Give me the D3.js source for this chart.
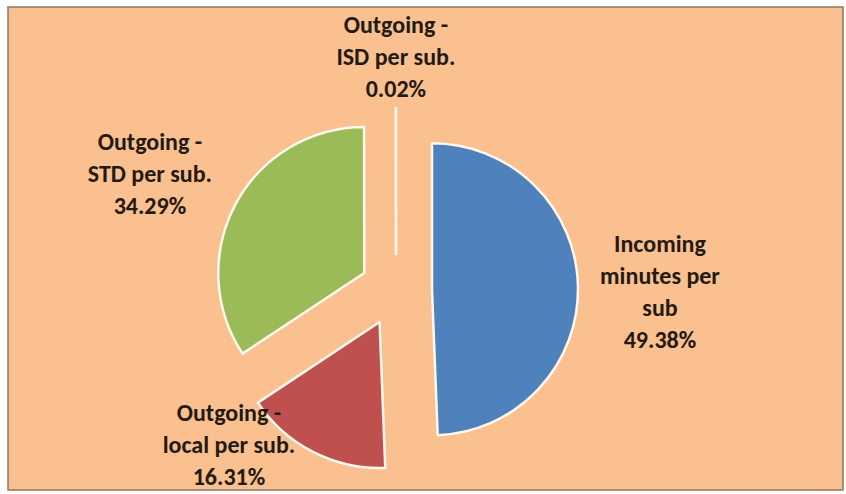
<!DOCTYPE html>
<html>
<head>
<meta charset="utf-8">
<script src="https://cdn.jsdelivr.net/npm/d3@7"></script>
<style>
  html, body { margin: 0; padding: 0; background: #ffffff; }
  svg { display: block; }
  text { font-family: Carlito, "Liberation Sans Narrow", "DejaVu Sans Condensed", sans-serif; font-weight: bold; }
</style>
</head>
<body>
<svg id="chart" width="846" height="494"></svg>
<script>
// ---- data ----
const categories = ["Incoming minutes per sub", "Outgoing - local per sub.", "Outgoing - STD per sub.", "Outgoing - ISD per sub."];
const labelLines = [["Incoming", "minutes per", "sub"], ["Outgoing -", "local per sub."], ["Outgoing -", "STD per sub."], ["Outgoing -", "ISD per sub."]];
const values = [49.38, 16.31, 34.29, 0.02];
const colors = ["#4F81BD", "#C0504D", "#9BBB59", "#8064A2"];

// ---- layout ----
const W = 846, H = 494;
const cx = 396, cy = 290, R = 146, explode = 36;
// label placement: [radius, angle nudge (deg)]
const labelLayout = [[264, 1.5], [228, 20], [272, -3], [233, 0]];
const lineH = 32;

const svg = d3.select("#chart");
svg.append("rect").attr("x", 8).attr("y", 7).attr("width", 835).attr("height", 483)
  .attr("fill", "#FAC090").attr("stroke", "#8a7866").attr("stroke-width", 1.5);

const pie = d3.pie().sort(null).value(d => d)(values);
const arc = d3.arc().innerRadius(0).outerRadius(R);
const g = svg.append("g").attr("transform", `translate(${cx},${cy})`);

g.selectAll("path").data(pie).join("path")
  .attr("d", arc)
  .attr("transform", d => {
    const a = (d.startAngle + d.endAngle) / 2;
    return `translate(${explode * Math.sin(a)},${-explode * Math.cos(a)})`;
  })
  .attr("fill", (d, i) => colors[i])
  .attr("stroke", "#FFF8EC")
  .attr("stroke-width", 2.5)
  .attr("stroke-linejoin", "round");

const fmt = d3.format(".2f");
const lab = g.selectAll("text.lbl").data(pie).join("text")
  .attr("class", "lbl")
  .attr("text-anchor", "middle")
  .attr("fill", "#241a12")
  .attr("font-size", 24)
  .each(function (d, i) {
    const a = (d.startAngle + d.endAngle) / 2 + labelLayout[i][1] * Math.PI / 180;
    const r = labelLayout[i][0];
    const x = r * Math.sin(a), y = -r * Math.cos(a);
    const lines = labelLines[i].concat([fmt(values[i]) + "%"]);
    const y0 = y - (lines.length - 1) * lineH / 2 + 8;
    const t = d3.select(this);
    lines.forEach((s, k) => {
      t.append("tspan").attr("x", x).attr("y", y0 + k * lineH).text(s);
    });
  });
</script>
</body>
</html>
